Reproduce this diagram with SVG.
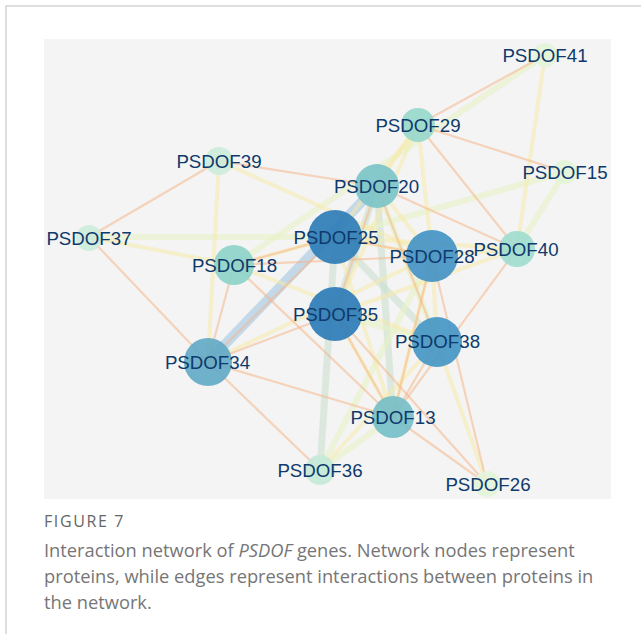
<svg xmlns="http://www.w3.org/2000/svg" width="641" height="634" viewBox="0 0 641 634">
  <style>
    .lbl { font-family: "Liberation Sans", Arial, sans-serif; font-size: 18.7px; fill: #0e3a6c; text-anchor: middle; }
    .cap { font-family: "Open Sans", "Liberation Sans", sans-serif; font-size: 18.3px; fill: #767676; }
    .fig { font-family: "Open Sans", "Liberation Sans", sans-serif; font-size: 16px; letter-spacing: 1.6px; fill: #666666; }
    .o  { stroke: #f6b68a; stroke-width: 2.2; stroke-opacity: 0.55; }
    .y  { stroke: #f8e9a4; stroke-width: 4; stroke-opacity: 0.5; }
    .lg { stroke: #e6f2c4; stroke-width: 6; stroke-opacity: 0.6; }
    .g  { stroke: #c9dfcc; stroke-width: 7; stroke-opacity: 0.55; }
    .b  { stroke: #a9c9e4; stroke-width: 10; stroke-opacity: 0.65; }
    .node circle { fill-opacity: 0.92; }
  </style>

  <!-- page frame -->
  <rect x="0" y="0" width="641" height="634" fill="#ffffff"/>
  <path d="M6 634 V6 H641" fill="none" stroke="#d4d4d4" stroke-width="1.5"/>

  <!-- plot panel -->
  <rect x="44" y="39" width="567" height="460" fill="#f4f4f4"/>

  <!-- interactions -->
  <g id="edges" fill="none" stroke-linecap="round">
    <!-- strongest -->
    <line class="b" x1="208" y1="362" x2="377" y2="186"/>
    <!-- green -->
    <line class="g" x1="377" y1="186" x2="393" y2="417"/>
    <line class="g" x1="335" y1="237" x2="320" y2="470"/>
    <line class="g" x1="335" y1="237" x2="437" y2="342"/>
    <line class="g" x1="377" y1="186" x2="335" y2="314"/>
    <!-- green-yellow -->
    <line class="lg" x1="89" y1="237" x2="335" y2="237"/>
    <line class="lg" x1="565" y1="172" x2="335" y2="237"/>
    <line class="lg" x1="320" y1="470" x2="393" y2="417"/>
    <line class="lg" x1="320" y1="470" x2="432" y2="256"/>
    <line class="lg" x1="335" y1="314" x2="437" y2="342"/>
    <line class="lg" x1="545" y1="55" x2="234" y2="265"/>
    <line class="lg" x1="565" y1="172" x2="517" y2="249"/>
    <line class="lg" x1="377" y1="186" x2="437" y2="342"/>
    <!-- yellow -->
    <line class="y" x1="545" y1="55" x2="517" y2="249"/>
    <line class="y" x1="418" y1="125" x2="377" y2="186"/>
    <line class="y" x1="418" y1="125" x2="335" y2="237"/>
    <line class="y" x1="418" y1="125" x2="432" y2="256"/>
    <line class="y" x1="418" y1="125" x2="335" y2="314"/>
    <line class="y" x1="219" y1="161" x2="432" y2="256"/>
    <line class="y" x1="219" y1="161" x2="208" y2="362"/>
    <line class="y" x1="89" y1="237" x2="234" y2="265"/>
    <line class="y" x1="234" y1="265" x2="437" y2="342"/>
    <line class="y" x1="234" y1="265" x2="335" y2="237"/>
    <line class="y" x1="432" y1="256" x2="517" y2="249"/>
    <line class="y" x1="335" y1="314" x2="517" y2="249"/>
    <line class="y" x1="335" y1="237" x2="517" y2="249"/>
    <line class="y" x1="437" y1="342" x2="487" y2="484"/>
    <line class="y" x1="432" y1="256" x2="437" y2="342"/>
    <line class="y" x1="377" y1="186" x2="432" y2="256"/>
    <line class="y" x1="335" y1="237" x2="432" y2="256"/>
    <line class="y" x1="208" y1="362" x2="432" y2="256"/>
    <line class="y" x1="320" y1="470" x2="437" y2="342"/>
    <line class="y" x1="335" y1="237" x2="393" y2="417"/>
    <line class="y" x1="432" y1="256" x2="393" y2="417"/>
    <line class="y" x1="335" y1="314" x2="393" y2="417"/>
    <!-- weak -->
    <line class="o" x1="545" y1="55" x2="418" y2="125"/>
    <line class="o" x1="418" y1="125" x2="565" y2="172"/>
    <line class="o" x1="418" y1="125" x2="517" y2="249"/>
    <line class="o" x1="219" y1="161" x2="89" y2="237"/>
    <line class="o" x1="219" y1="161" x2="377" y2="186"/>
    <line class="o" x1="89" y1="237" x2="208" y2="362"/>
    <line class="o" x1="234" y1="265" x2="335" y2="237"/>
    <line class="o" x1="234" y1="265" x2="432" y2="256"/>
    <line class="o" x1="234" y1="265" x2="393" y2="417"/>
    <line class="o" x1="234" y1="265" x2="208" y2="362"/>
    <line class="o" x1="208" y1="362" x2="335" y2="237"/>
    <line class="o" x1="208" y1="362" x2="335" y2="314"/>
    <line class="o" x1="208" y1="362" x2="393" y2="417"/>
    <line class="o" x1="208" y1="362" x2="320" y2="470"/>
    <line class="o" x1="377" y1="186" x2="517" y2="249"/>
    <line class="o" x1="377" y1="186" x2="437" y2="342"/>
    <line class="o" x1="377" y1="186" x2="335" y2="314"/>
    <line class="o" x1="517" y1="249" x2="393" y2="417"/>
    <line class="o" x1="335" y1="314" x2="393" y2="417"/>
    <line class="o" x1="335" y1="314" x2="487" y2="484"/>
    <line class="o" x1="432" y1="256" x2="393" y2="417"/>
    <line class="o" x1="437" y1="342" x2="393" y2="417"/>
    <line class="o" x1="393" y1="417" x2="487" y2="484"/>
    <line class="o" x1="432" y1="256" x2="487" y2="484"/>
    <line class="o" x1="335" y1="237" x2="432" y2="256"/>
  </g>

  <!-- proteins -->
  <g id="PSDOF41" class="node"><circle cx="545" cy="55" r="12" fill="#e3f4d9"/><text class="lbl" x="545" y="61.5">PSDOF41</text></g>
  <g id="PSDOF15" class="node"><circle cx="565" cy="172" r="12" fill="#e3f4d9"/><text class="lbl" x="565" y="178.5">PSDOF15</text></g>
  <g id="PSDOF39" class="node"><circle cx="219" cy="161" r="14" fill="#cdebdb"/><text class="lbl" x="219" y="167.5">PSDOF39</text></g>
  <g id="PSDOF37" class="node"><circle cx="89" cy="238" r="13" fill="#cdebdb"/><text class="lbl" x="89" y="244.5">PSDOF37</text></g>
  <g id="PSDOF36" class="node"><circle cx="320" cy="470" r="15" fill="#c6e9d9"/><text class="lbl" x="320" y="476.5">PSDOF36</text></g>
  <g id="PSDOF26" class="node"><circle cx="487" cy="484" r="13" fill="#e3f4d9"/><text class="lbl" x="488" y="491">PSDOF26</text></g>
  <g id="PSDOF29" class="node"><circle cx="418" cy="125" r="17" fill="#98d8cb"/><text class="lbl" x="418" y="131.5">PSDOF29</text></g>
  <g id="PSDOF40" class="node"><circle cx="517" cy="249" r="18" fill="#a0dccf"/><text class="lbl" x="516" y="255.5">PSDOF40</text></g>
  <g id="PSDOF18" class="node"><circle cx="234" cy="265" r="20" fill="#8ed3c8"/><text class="lbl" x="234.5" y="271.5">PSDOF18</text></g>
  <g id="PSDOF20" class="node"><circle cx="377" cy="186" r="22" fill="#7cc4c8"/><text class="lbl" x="376.5" y="192.5">PSDOF20</text></g>
  <g id="PSDOF13" class="node"><circle cx="393" cy="417" r="21" fill="#76bfc7"/><text class="lbl" x="393" y="423.5">PSDOF13</text></g>
  <g id="PSDOF34" class="node"><circle cx="208" cy="362" r="24" fill="#63a9c5"/><text class="lbl" x="207.5" y="368.5">PSDOF34</text></g>
  <g id="PSDOF28" class="node"><circle cx="432" cy="256" r="26" fill="#4494c4"/><text class="lbl" x="432" y="262.5">PSDOF28</text></g>
  <g id="PSDOF38" class="node"><circle cx="437" cy="342" r="25" fill="#4597c5"/><text class="lbl" x="437.5" y="348">PSDOF38</text></g>
  <g id="PSDOF25" class="node"><circle cx="335" cy="237" r="27" fill="#2e7db7"/><text class="lbl" x="336" y="243.5">PSDOF25</text></g>
  <g id="PSDOF35" class="node"><circle cx="335" cy="314" r="27" fill="#2d7cb7"/><text class="lbl" x="335.5" y="320.5">PSDOF35</text></g>

  <!-- caption -->
  <text class="fig" x="44" y="527">FIGURE 7</text>
  <text class="cap" x="44" y="557">Interaction network of <tspan font-style="italic">PSDOF</tspan> genes. Network nodes represent</text>
  <text class="cap" x="44" y="583">proteins, while edges represent interactions between proteins in</text>
  <text class="cap" x="44" y="609">the network.</text>
</svg>
